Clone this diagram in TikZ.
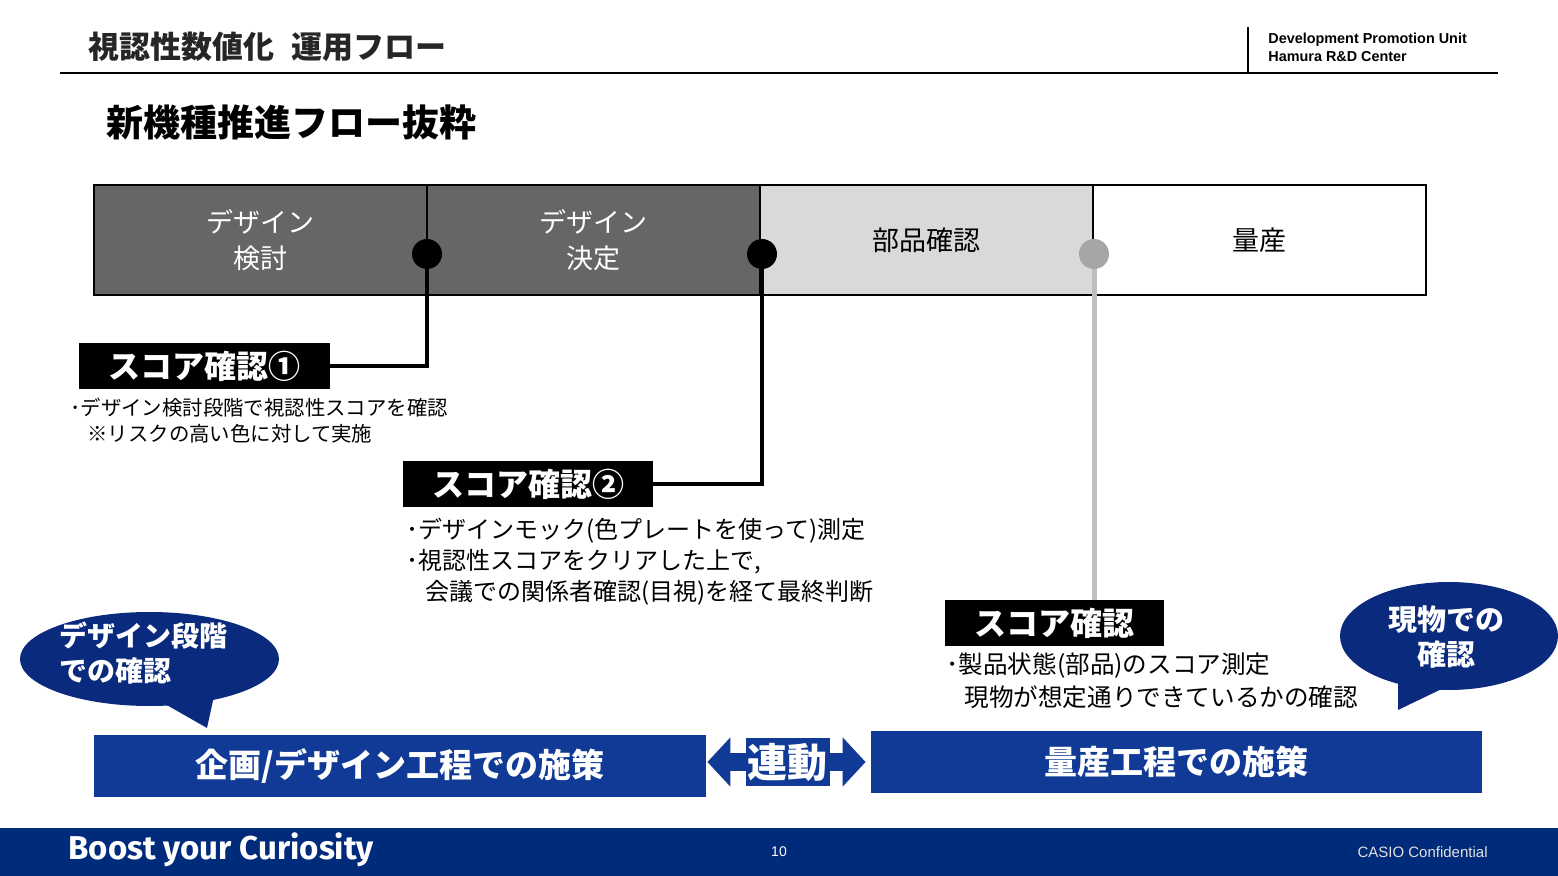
\documentclass[tikz,border=0pt]{standalone}
\usepackage{fontspec}
\setmainfont{Noto Sans CJK JP}
\newfontfamily\arialf{Liberation Sans}
\newfontfamily\boostf{Fira Sans}
\usetikzlibrary{shapes.geometric,arrows.meta}
\definecolor{navy}{RGB}{0,42,122}
\definecolor{barblue}{RGB}{16,58,150}
\definecolor{bubblue}{RGB}{10,42,125}
\definecolor{phdark}{RGB}{102,102,102}
\definecolor{phlight}{RGB}{217,217,217}
\definecolor{dotgray}{RGB}{166,166,166}
\definecolor{linegray}{RGB}{191,191,191}
\newcommand{\fsz}[2]{\fontsize{#1}{#2}\selectfont}
\begin{document}
\begin{tikzpicture}[x=0.5pt,y=-0.5pt,
 phase/.style={draw=black, line width=1pt, minimum width=166.5pt, minimum height=55pt, inner sep=0, align=center, font=\fsz{13.5}{18}},
 dot/.style={circle, inner sep=0, minimum size=15pt},
 scorebox/.style={fill=black, text=white, inner sep=0, minimum height=23pt, font=\bfseries\fsz{16}{18}},
 desc/.style={anchor=west, inner sep=0},
 conn/.style={line width=2pt},
 bubble/.style={ellipse, fill=bubblue, inner sep=0},
 bubtext/.style={text=white, font=\bfseries\fsz{14}{17.5}, inner sep=0},
 bar/.style={fill=barblue, text=white, inner sep=0, minimum width=306pt, minimum height=31pt, font=\bfseries\fsz{16.5}{18}},
]
\useasboundingbox (0,0) rectangle (1558,876);
\fill[white] (0,0) rectangle (1558,876);
% header
\node[anchor=west, inner sep=0, font=\bfseries\fsz{15.5}{18}, text=black!85] (title) at (88,47) {視認性数値化\hspace{0.55em}運用フロー};
\draw[line width=1pt] (60,73) -- (1498,73);
\draw[line width=0.9pt] (1248,27) -- (1248,73);
\node[anchor=west, inner sep=0, align=left, font=\arialf\bfseries\fsz{7.2}{9}] (org) at (1268,47) {Development Promotion Unit\\Hamura R\&D Center};
\node[anchor=west, inner sep=0, font=\bfseries\fsz{18.5}{20}] (subtitle) at (106,122) {新機種推進フロー抜粋};
% phases
\node[phase, fill=phdark, text=white] (p1) at (260.5,240) {デザイン\\検討};
\node[phase, fill=phdark, text=white] (p2) at (593.5,240) {デザイン\\決定};
\node[phase, fill=phlight] (p3) at (926.5,240) {部品確認};
\node[phase, fill=white] (p4) at (1259.5,240) {量産};
% score boxes
\node[scorebox, minimum width=125.5pt] (s1) at (204.5,366) {スコア確認①};
\node[scorebox, minimum width=125pt] (s2) at (528,484) {スコア確認②};
\node[scorebox, minimum width=109.5pt] (s3) at (1054.5,623) {スコア確認};
% connectors
\coordinate (c1) at (427,254);
\coordinate (c2) at (762,254);
\coordinate (c3) at (1094,254);
\draw[conn] (c1) |- (s1.east);
\draw[conn] (c2) |- (s2.east);
\draw[line width=2.5pt, linegray] (c3) -- (c3 |- s3.north);
\node[dot, fill=black] (d1) at (c1) {};
\node[dot, fill=black] (d2) at (c2) {};
\node[dot, fill=dotgray] (d3) at (c3) {};
% descriptions
\node[desc, font=\fsz{10.2}{13}] (t1a) at (70,408) {･デザイン検討段階で視認性スコアを確認};
\node[desc, font=\fsz{10.2}{13}] (t1b) at (87,434) {※リスクの高い色に対して実施};
\node[desc, font=\fsz{12}{14}] (t2a) at (406,531) {･デザインモック(色プレートを使って)測定};
\node[desc, font=\fsz{12}{14}] (t2b) at (406,562) {･視認性スコアをクリアした上で,};
\node[desc, font=\fsz{12}{14}] (t2c) at (425,593) {会議での関係者確認(目視)を経て最終判断};
\node[desc, font=\fsz{12.3}{14}] (t3a) at (946,666) {･製品状態(部品)のスコア測定};
\node[desc, font=\fsz{12.3}{14}] (t3b) at (964,697) {現物が想定通りできているかの確認};
% bubbles
\node[bubble, minimum width=129.5pt, minimum height=47pt] (b1) at (149.5,659) {};
\fill[bubblue] (158,700) -- (207,728) -- (214,696) -- cycle;
\node[bubtext, anchor=west, align=left] (b1t) at (59,653.5) {デザイン段階\\での確認};
\node[bubble, minimum width=109pt, minimum height=54pt] (b2) at (1449,636) {};
\fill[bubblue] (1398,672) -- (1398,710) -- (1452,684) -- cycle;
\node[bubtext, align=center, font=\bfseries\fsz{14.5}{17.5}] (b2t) at (1446,636.5) {現物での\\確認};
% bars
\node[bar] (bar1) at (400,766) {企画/デザイン工程での施策};
\node[bar, minimum width=305.5pt] (bar2) at (1176.5,762) {量産工程での施策};
\draw[barblue, line width=9pt, {Triangle[width=24pt,length=11.5pt]}-{Triangle[width=24pt,length=11.5pt]}] ([xshift=0.5pt]bar1.east |- 0,762) -- ([xshift=-2.5pt]bar2.west);
\node[fill=barblue, text=white, minimum width=42pt, minimum height=24pt, inner sep=0, font=\bfseries\fsz{20}{22}] (link) at (787.5,762) {連動};
% footer
\node[fill=navy, minimum width=779pt, minimum height=24pt, inner sep=0] (footer) at (779,852) {};
\node[anchor=west, inner sep=0, text=white, font=\boostf\bfseries\fsz{16.5}{18}] (boost) at (68,850) {Boost your Curiosity};
\node[inner sep=0, text=white, font=\arialf\fsz{7}{8}] (page) at (779,852) {10};
\node[anchor=east, inner sep=0, text=white!88!black, font=\arialf\fsz{7.5}{9}] (conf) at (1488,852) {CASIO Confidential};
\end{tikzpicture}
\end{document}
